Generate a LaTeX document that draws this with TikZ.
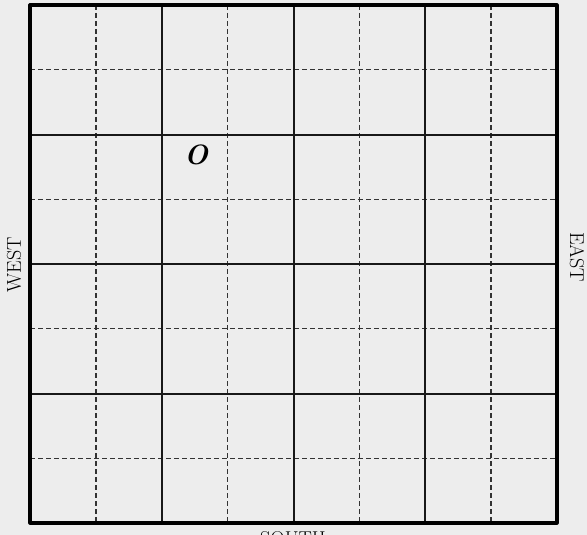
\documentclass[tikz,border=0pt]{standalone}
\begin{document}
\begin{tikzpicture}[
    x=1pt, y=-1pt,
    major/.style={line width=2pt, black!90},
    minor/.style={line width=1.3pt, black!80, dash pattern=on 5pt off 3pt},
    frame/.style={line width=3.2pt, black, line join=round},
    compass/.style={font=\fontsize{20}{24}\selectfont, inner sep=0pt},
    font=\small
]
    % 背景 (纸张)
    \path[use as bounding box, fill=black!7] (0,0) rectangle (587,535);

    % 1. 虚线 (小格)
    \foreach \i in {1,3,5,7} {
        \draw[minor] ({30+\i*65.875},5) -- ({30+\i*65.875},523);
        \draw[minor] (30,{5+\i*64.75}) -- (557,{5+\i*64.75});
    }

    % 2. 实线 (大格)
    \foreach \i in {2,4,6} {
        \draw[major] ({30+\i*65.875},5) -- ({30+\i*65.875},523);
        \draw[major] (30,{5+\i*64.75}) -- (557,{5+\i*64.75});
    }

    % 3. 外框
    \draw[frame] (30,5) rectangle (557,523);

    % 方位标注
    \node[compass, rotate=90] (west) at (14,265) {WEST};
    \node[compass, rotate=-90] (east) at (577,257) {EAST};
    \node[compass, anchor=north] (south) at (293,531) {SOUTH};

    % 点 O
    \node[font=\fontsize{28}{30}\selectfont\bfseries\itshape] (origin) at (196,155) {O};
\end{tikzpicture}
\end{document}
